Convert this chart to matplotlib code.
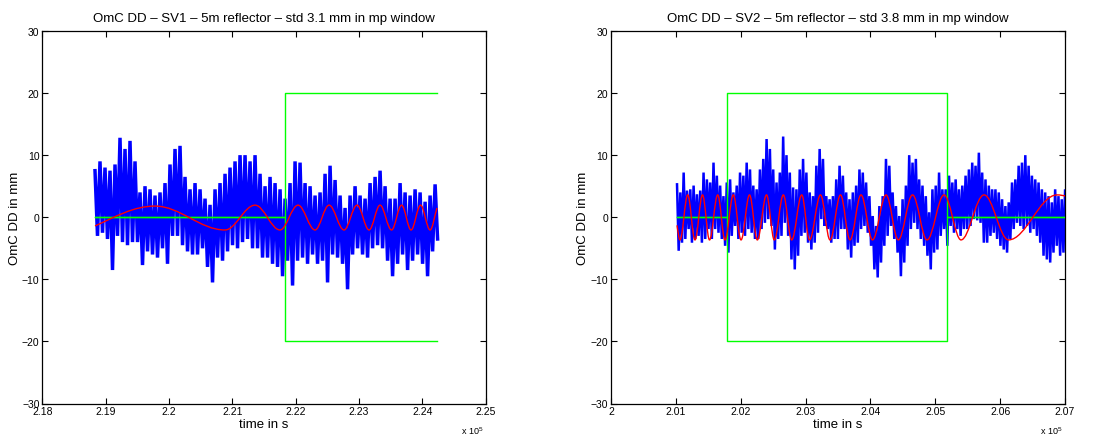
import numpy as np
import matplotlib
matplotlib.use('Agg')
import matplotlib.pyplot as plt
from matplotlib.path import Path
from matplotlib.patches import PathPatch

plt.rcParams['font.family'] = ['Liberation Sans', 'DejaVu Sans']
plt.rcParams['mathtext.fontset'] = 'custom'
plt.rcParams['mathtext.rm'] = 'Liberation Sans'

# ---------------- text ----------------
titles = ['OmC DD \u2013 SV1 \u2013 5m reflector \u2013 std 3.1 mm in mp window',
          'OmC DD \u2013 SV2 \u2013 5m reflector \u2013 std 3.8 mm in mp window']
xlabel = 'time in s'
ylabel = 'OmC DD in mm'
sv1_xticklabels = ['2.18', '2.19', '2.2', '2.21', '2.22', '2.23', '2.24', '2.25']
sv2_xticklabels = ['2', '2.01', '2.02', '2.03', '2.04', '2.05', '2.06', '2.07']
yticks = [-30, -20, -10, 0, 10, 20, 30]

# ---------------- SV1 OmC (blue), upper / lower excursions per sample ----------------
sv1_t_first, sv1_t_last = 218832, 224201
sv1_hi = [7.5, 9.0, 8.0, 7.5, 8.5, 12.8, 11.0, 12.3, 9.0, 4.0,
          5.0, 4.5, 3.5, 4.0, 5.5, 8.5, 11.0, 11.5, 6.5, 4.5,
          5.5, 4.5, 3.0, 2.0, 4.5, 5.5, 7.0, 8.0, 9.0, 10.0,
          10.0, 9.0, 10.0, 7.0, 5.0, 6.5, 5.5, 4.5, 3.0, 5.5,
          9.0, 8.8, 5.5, 5.0, 3.5, 4.0, 7.0, 8.3, 6.0, 3.5,
          1.5, 3.5, 5.0, 3.5, 3.0, 5.5, 6.5, 7.5, 5.0, 3.0,
          3.0, 5.5, 4.0, 3.5, 4.5, 4.0, 2.5, 3.5, 5.3]
sv1_lo = [-3.0, -2.5, -3.5, -8.5, -3.0, -4.0, -4.5, -4.0, -4.0, -7.7,
          -5.5, -6.0, -6.5, -5.0, -7.5, -3.0, -3.0, -4.5, -5.5, -6.0,
          -6.0, -5.0, -8.0, -10.5, -6.5, -7.0, -5.5, -4.5, -5.0, -4.0,
          -3.5, -5.0, -5.0, -6.5, -6.5, -7.5, -8.0, -9.5, -7.0, -11.0,
          -7.0, -6.5, -7.5, -6.0, -7.5, -7.0, -10.5, -6.0, -6.5, -7.5,
          -11.6, -6.0, -5.0, -6.0, -6.5, -5.0, -4.5, -5.0, -7.0, -9.5,
          -7.5, -6.0, -8.5, -7.0, -6.0, -7.5, -9.5, -5.5, -3.5]

# ---------------- SV2 OmC (blue) ----------------
sv2_t_first, sv2_t_last = 201018, 207155
sv2_hi = [5.3, 4.0, 7.2, 4.3, 4.5, 5.1, 3.7, 4.3, 7.2, 6.1,
          5.6, 8.8, 6.7, 5.1, 3.4, 5.6, 6.1, 4.0, 5.1, 7.2,
          6.7, 8.8, 7.7, 5.1, 4.5, 7.7, 9.4, 12.6, 11.0, 7.7,
          5.6, 7.2, 13.0, 10.0, 7.2, 4.8, 4.5, 7.7, 9.4, 7.2,
          4.0, 3.4, 8.3, 11.0, 9.4, 3.4, 2.9, 3.4, 6.1, 8.3,
          6.7, 4.0, 2.9, 4.0, 5.1, 7.7, 7.2, 5.6, 3.4, 0.2,
          -1.4, 1.8, 3.4, 9.4, 8.3, 4.0, 1.8, 0.2, 2.9, 5.1,
          10.0, 8.8, 9.4, 6.1, 5.1, 3.4, 0.8, 4.5, 5.1, 7.2,
          4.5,
          4.5, 6.7, 5.6, 6.1, 4.5, 5.1, 6.7, 7.7, 8.8, 8.3,
          10.4, 7.2, 6.1, 5.1, 4.5, 4.5, 4.0, 2.9, 1.8, 2.4,
          5.6, 6.1, 8.3, 8.8, 10.0, 8.3, 6.7, 6.1, 5.6, 4.5,
          4.0, 3.4, 2.4, 4.5, 3.4, 2.9, 4.5, 2.9, 2.4, 1.3]
sv2_lo = [-5.4, -4.1, -3.5, -1.9, -4.1, -3.5, -3.0, -4.1, -3.5, -1.9,
          -3.5, -1.9, -2.5, -3.5, -4.6, -5.7, -3.0, -1.4, -3.5, -2.5,
          -3.0, -1.9, -2.5, -3.5, -3.5, -1.9, -0.9, -0.3, -1.4, -5.2,
          -3.5, -3.0, -0.9, -3.0, -6.8, -8.4, -6.2, -3.0, -2.5, -4.1,
          -5.2, -4.1, -2.5, -0.3, -1.4, -1.9, -4.1, -3.5, -3.5, -1.9,
          -1.9, -5.2, -6.5, -4.6, -4.1, -1.9, -1.4, -2.5, -4.6, -8.4,
          -9.7, -7.3, -4.6, -3.0, -1.4, -3.5, -5.7, -9.5, -7.3, -4.6,
          -1.9, -0.9, -1.9, -3.5, -4.6, -6.2, -8.4, -5.7, -5.2, -3.0,
          -1.9,
          -4.6, -1.4, -2.5, -1.9, -3.0, -1.9, -1.9, -1.4, -0.3, -0.5,
          -0.9, -4.1, -4.1, -3.0, -2.5, -3.5, -4.6, -5.2, -5.7, -3.5,
          -1.9, -0.9, -1.4, -1.9, -1.4, -2.5, -1.9, -3.0, -4.1, -6.2,
          -6.8, -7.3, -5.7, -4.6, -6.2, -5.7, -5.2, -5.7, -7.3, -5.2]

# ---------------- fitted oscillation (red): turning points ----------------
sv1_fit_t = [218832, 219780, 220885, 221359, 221753, 222038, 222306, 222527,
             222764, 222969, 223159, 223332, 223514, 223672, 223822, 223972,
             224122, 224232]
sv1_fit_v = [-1.4, 1.8, -2.05, 1.95, -2.05, 1.95, -2.05, 1.95,
             -2.05, 1.95, -2.05, 1.95, -2.05, 1.95, -2.05, 1.95,
             -2.05, 1.5]
sv2_fit_t = [201018, 201064, 201183, 201295, 201411, 201519, 201645, 201758,
             201886, 202005, 202136, 202256, 202398, 202518, 202657, 202786,
             202941, 203061, 203230, 203377, 203539, 203685, 203855, 204032,
             204241, 204430, 204649, 204873, 205135, 205397, 205752, 206129,
             206877, 207170]
sv2_fit_v = [-1.3, -3.65, 3.6, -3.65, 3.6, -3.65, 3.6, -3.65,
             3.6, -3.65, 3.6, -3.65, 3.6, -3.65, 3.6, -3.65,
             3.6, -3.65, 3.6, -3.65, 3.6, -3.65, 3.6, -3.65,
             3.6, -3.65, 3.6, -3.65, 3.6, -3.65, 3.6, -3.65,
             3.6, 3.0]

# ---------------- mp window mask (green) ----------------
sv1_mask_t = [218832, 221832, 221832, 224232]
sv1_mask_v = [0, 0, 1, 1]
sv2_mask_t = [201018, 201789, 201789, 205181, 205181, 207170]
sv2_mask_v = [0, 0, 1, 1, 0, 0]
mask_level = 20


def zigzag(t0, t1, hi, lo):
    n = len(hi)
    t = np.linspace(t0, t1, n)
    dt = (t1 - t0) / (n - 1)
    tt = np.empty(2 * n)
    vv = np.empty(2 * n)
    tt[0::2] = t
    tt[1::2] = t + dt / 2
    vv[0::2] = hi
    vv[1::2] = lo
    return tt, vv


def smooth_path(ts, vs, k=0.36):
    verts = [(ts[0], vs[0])]
    codes = [Path.MOVETO]
    n = len(ts)
    for i in range(n - 1):
        x0, y0, x1, y1 = ts[i], vs[i], ts[i + 1], vs[i + 1]
        dx = x1 - x0
        if i == 0:
            c1 = (x0 + dx / 3, y0 + (y1 - y0) * 0.45)
        else:
            c1 = (x0 + k * dx, y0)
        if i == n - 2:
            c2 = (x1 - dx / 3, y1 - (y1 - y0) * 0.3)
        else:
            c2 = (x1 - k * dx, y1)
        verts += [c1, c2, (x1, y1)]
        codes += [Path.CURVE4] * 3
    return Path(verts, codes)


fig = plt.figure(figsize=(11.04, 4.39), dpi=100)
W, H = 1104.0, 439.0
ax_boxes = [(42.3, 485.7), (611.0, 1065.0)]
y_top, y_bot = 32.0, 404.5
blue_widths = [2.5, 1.8]

panels = [
    (sv1_t_first, sv1_t_last, sv1_hi, sv1_lo, sv1_fit_t, sv1_fit_v,
     sv1_mask_t, sv1_mask_v, sv1_xticklabels),
    (sv2_t_first, sv2_t_last, sv2_hi, sv2_lo, sv2_fit_t, sv2_fit_v,
     sv2_mask_t, sv2_mask_v, sv2_xticklabels),
]

for (xl, xr), title, p, bw in zip(ax_boxes, titles, panels, blue_widths):
    t0, t1, hi, lo, ft, fv, mt, mv, xtl = p
    ax = fig.add_axes([xl / W, (H - y_bot) / H, (xr - xl) / W, (y_bot - y_top) / H])
    tt, vv = zigzag(t0, t1, hi, lo)
    ax.plot(tt, vv, color='#0000ff', lw=bw, zorder=2, solid_joinstyle='miter')
    mt = np.array(mt, float)
    mv = np.array(mv, float)
    ax.plot(mt, mask_level * mv, color='#00ff00', lw=1.0, zorder=3)
    ax.plot(mt, -mask_level * mv, color='#00ff00', lw=1.0, zorder=3)
    ax.add_patch(PathPatch(smooth_path(ft, fv), fill=False, edgecolor='#ff0000',
                           lw=1.0, zorder=4))
    xt = [float(s) * 1e5 for s in xtl]
    ax.set_xlim(xt[0], xt[-1])
    ax.set_ylim(yticks[0], yticks[-1])
    ax.set_xticks(xt)
    ax.set_xticklabels(xtl)
    ax.set_yticks(yticks)
    ax.set_yticklabels([str(v).replace('-', '\u2212') for v in yticks])
    ax.tick_params(direction='in', top=True, right=True, length=4, width=0.8,
                   labelsize=7.5, pad=2)
    for s in ax.spines.values():
        s.set_linewidth(0.9)
    ax.set_title(title, fontsize=9.5, pad=7)
    ax.set_xlabel(xlabel, fontsize=9.5, labelpad=1)
    ax.set_ylabel(ylabel, fontsize=9.5, labelpad=1)
    ax.text(0.995, -0.088, r'x 10$^{5}$', transform=ax.transAxes, ha='right',
            va='bottom', fontsize=6.5)

fig.savefig('out.png', dpi=100)
